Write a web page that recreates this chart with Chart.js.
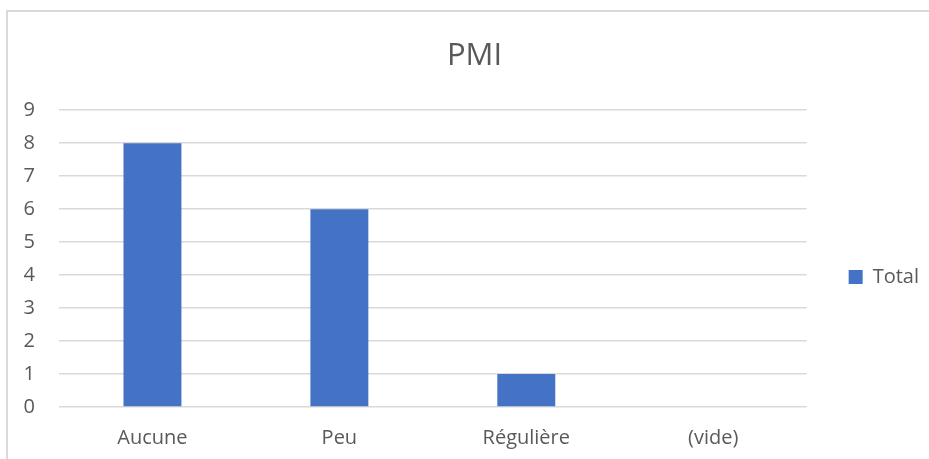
<!DOCTYPE html>
<html><head><meta charset="utf-8">
<script src="https://cdn.jsdelivr.net/npm/chart.js@4/dist/chart.umd.min.js"></script>
<style>
html,body{margin:0;padding:0;overflow:hidden;background:#fff;width:929px;height:459px;}
#frame{position:absolute;left:6px;top:10px;width:933px;height:530px;border:2px solid #d9d9d9;box-sizing:content-box;}
canvas{display:block}
</style></head><body>
<div id="frame"><canvas id="c" width="933" height="530" style="width:933px;height:530px"></canvas></div>
<script>
const categories = ['Aucune', 'Peu', 'Régulière', '(vide)'];
const totalValues = [8, 6, 1, 0];
const seriesName = 'Total';
const chartTitle = 'PMI';
const yMin = 0;
const yMax = 9;
const yStep = 1;

const FONT = "'Open Sans', 'Segoe UI', sans-serif";
const TEXT = '#595959';
const GRID = '#d9d9d9';
const BAR = '#4472C4';

new Chart(document.getElementById('c'), {
  type: 'bar',
  data: {
    labels: categories,
    datasets: [{
      label: seriesName,
      data: totalValues,
      backgroundColor: BAR,
      borderWidth: 0,
      categoryPercentage: 1,
      barPercentage: 0.31
    }]
  },
  options: {
    responsive: false,
    animation: false,
    devicePixelRatio: 1,
    layout: { padding: { left: 12, right: 12, top: 0, bottom: 0 } },
    plugins: {
      title: {
        display: true,
        text: chartTitle,
        color: TEXT,
        font: { family: FONT, size: 31, weight: 'normal' },
        padding: { top: 26, bottom: 35 }
      },
      legend: {
        display: true,
        position: 'right',
        labels: {
          color: TEXT,
          font: { family: FONT, size: 20 },
          boxWidth: 14,
          boxHeight: 14,
          padding: 22
        }
      },
      tooltip: { enabled: false }
    },
    scales: {
      x: {
        grid: { display: false, drawTicks: false },
        border: { display: false },
        ticks: { color: TEXT, font: { family: FONT, size: 20 }, padding: 19, maxRotation: 0 },
        afterFit: s => { s.height = 135; }
      },
      y: {
        min: yMin,
        max: yMax,
        ticks: { stepSize: yStep, color: TEXT, font: { family: FONT, size: 20 }, padding: 24 },
        grid: { color: GRID, lineWidth: 1.5, drawTicks: false },
        border: { display: false },
        afterFit: s => { s.width = 39; }
      },
      spacer: {
        type: 'linear',
        position: 'right',
        display: true,
        grid: { display: false, drawTicks: false },
        border: { display: false },
        ticks: { display: false },
        afterFit: s => { s.width = 20; }
      }
    }
  }
});
</script>
</body></html>
